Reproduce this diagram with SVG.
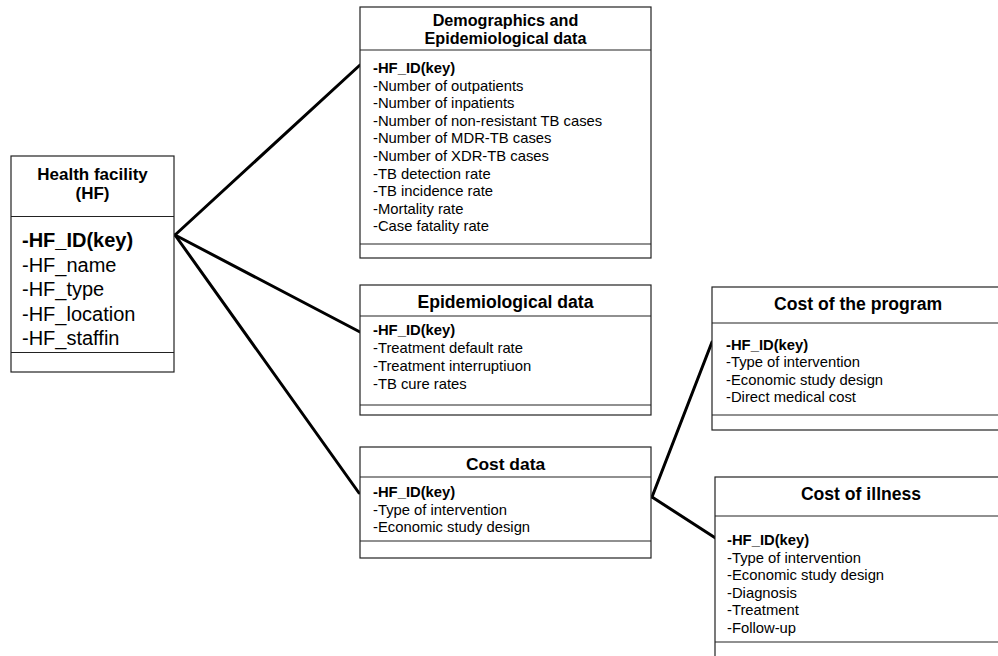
<svg xmlns="http://www.w3.org/2000/svg" width="998" height="656" viewBox="0 0 998 656">
<style>
text{font-family:"Liberation Sans",Arial,sans-serif;fill:#000}
.box{fill:#fff;stroke:#222;stroke-width:1.2}
.div{stroke:#222;stroke-width:1.2}
.t{font-weight:bold;text-anchor:middle}
.a{font-size:14.8px}
.k{font-weight:bold}
.conn{stroke:#000;stroke-width:3;fill:none;stroke-linecap:round}
</style>
<rect width="998" height="656" fill="#fff"/>
<g id="connectors">
<line class="conn" x1="175" y1="235" x2="360" y2="65"/>
<line class="conn" x1="175" y1="235" x2="360" y2="332"/>
<line class="conn" x1="175" y1="235" x2="359" y2="493"/>
<line class="conn" x1="652" y1="497" x2="712" y2="342"/>
<line class="conn" x1="652" y1="497" x2="717" y2="539"/>
</g>
<g id="hf">
<rect class="box" x="11" y="156" width="163" height="216"/>
<line class="div" x1="11" y1="216.5" x2="174" y2="216.5"/>
<line class="div" x1="11" y1="352.5" x2="174" y2="352.5"/>
<text class="t" x="92.5" y="179.5" font-size="17">Health facility</text>
<text class="t" x="92.5" y="198.5" font-size="17">(HF)</text>
<g font-size="20">
<text class="k" x="22" y="247">-HF_ID(key)</text>
<text x="22" y="271.5">-HF_name</text>
<text x="22" y="296">-HF_type</text>
<text x="22" y="320.5">-HF_location</text>
<text x="22" y="345">-HF_staffin</text>
</g>
</g>
<g id="demographics">
<rect class="box" x="360" y="7" width="291" height="251"/>
<line class="div" x1="360" y1="50" x2="651" y2="50"/>
<line class="div" x1="360" y1="244" x2="651" y2="244"/>
<text class="t" x="505.5" y="25.5" font-size="16.2">Demographics and</text>
<text class="t" x="505.5" y="44" font-size="16.2">Epidemiological data</text>
<g class="a">
<text class="k" x="373" y="73">-HF_ID(key)</text>
<text x="373" y="90.6">-Number of outpatients</text>
<text x="373" y="108.2">-Number of inpatients</text>
<text x="373" y="125.8">-Number of non-resistant TB cases</text>
<text x="373" y="143.4">-Number of MDR-TB cases</text>
<text x="373" y="161">-Number of XDR-TB cases</text>
<text x="373" y="178.6">-TB detection rate</text>
<text x="373" y="196.2">-TB incidence rate</text>
<text x="373" y="213.8">-Mortality rate</text>
<text x="373" y="231.4">-Case fatality rate</text>
</g>
</g>
<g id="epidemiological">
<rect class="box" x="360" y="285" width="291" height="130"/>
<line class="div" x1="360" y1="316" x2="651" y2="316"/>
<line class="div" x1="360" y1="405" x2="651" y2="405"/>
<text class="t" x="505.5" y="308" font-size="17.6">Epidemiological data</text>
<g class="a">
<text class="k" x="373" y="335">-HF_ID(key)</text>
<text x="373" y="353">-Treatment default rate</text>
<text x="373" y="371">-Treatment interruptiuon</text>
<text x="373" y="388.5">-TB cure rates</text>
</g>
</g>
<g id="costdata">
<rect class="box" x="360" y="447" width="291" height="111"/>
<line class="div" x1="360" y1="477" x2="651" y2="477"/>
<line class="div" x1="360" y1="541" x2="651" y2="541"/>
<text class="t" x="505.5" y="470" font-size="17.4">Cost data</text>
<g class="a">
<text class="k" x="373" y="497">-HF_ID(key)</text>
<text x="373" y="514.5">-Type of intervention</text>
<text x="373" y="532">-Economic study design</text>
</g>
</g>
<g id="costprogram">
<rect class="box" x="712" y="287" width="292" height="143"/>
<line class="div" x1="712" y1="323" x2="1004" y2="323"/>
<line class="div" x1="712" y1="415" x2="1004" y2="415"/>
<text class="t" x="858" y="310" font-size="17.6">Cost of the program</text>
<g class="a">
<text class="k" x="726" y="350">-HF_ID(key)</text>
<text x="726" y="367.3">-Type of intervention</text>
<text x="726" y="384.6">-Economic study design</text>
<text x="726" y="402">-Direct medical cost</text>
</g>
</g>
<g id="costillness">
<rect class="box" x="715" y="477" width="292" height="190"/>
<line class="div" x1="715" y1="516" x2="1007" y2="516"/>
<line class="div" x1="715" y1="642" x2="1007" y2="642"/>
<text class="t" x="861" y="500" font-size="17.6">Cost of illness</text>
<g class="a">
<text class="k" x="727" y="545">-HF_ID(key)</text>
<text x="727" y="562.6">-Type of intervention</text>
<text x="727" y="580.2">-Economic study design</text>
<text x="727" y="597.8">-Diagnosis</text>
<text x="727" y="615.4">-Treatment</text>
<text x="727" y="633">-Follow-up</text>
</g>
</g>
</svg>
